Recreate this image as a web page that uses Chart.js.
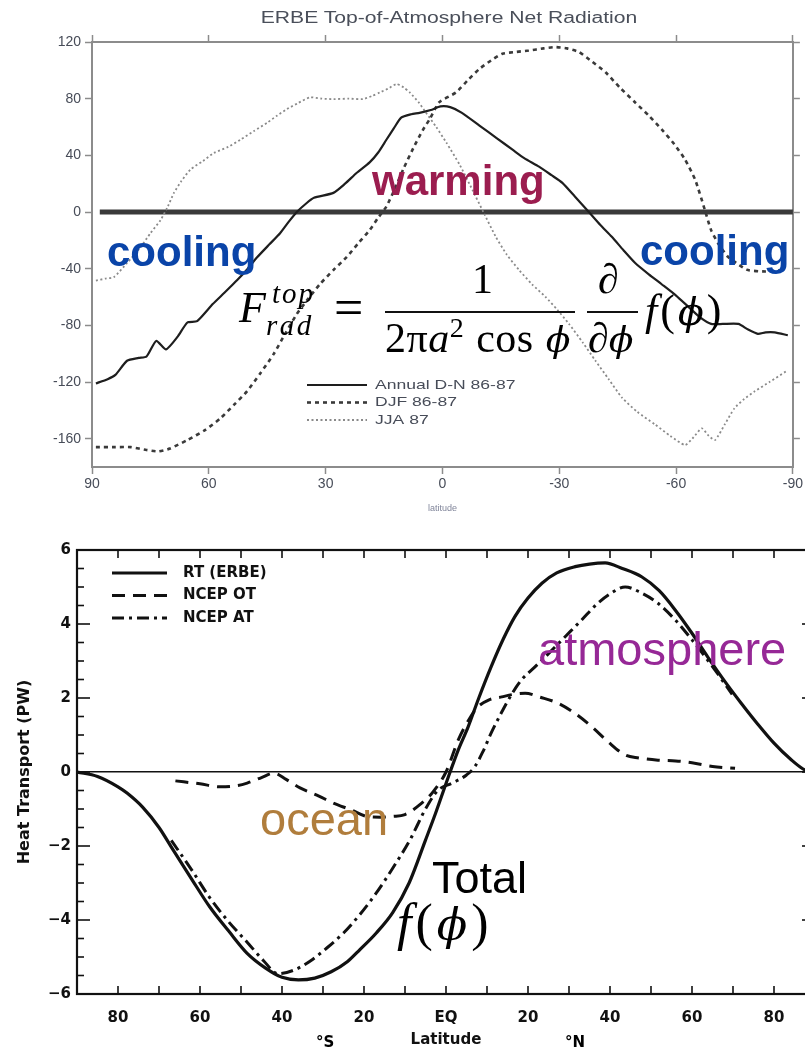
<!DOCTYPE html>
<html>
<head>
<meta charset="utf-8">
<script src="https://cdn.jsdelivr.net/npm/chart.js@4.4.0/dist/chart.umd.min.js"></script>
<style>
  html, body { margin: 0; padding: 0; background: #fff; }
  body { width: 805px; height: 1053px; position: relative; overflow: hidden; }
  #topChart { position: absolute; left: 0; top: 0; }
  #heatChart { position: absolute; left: 0; top: 520px; }
  .note { position: absolute; white-space: nowrap; line-height: 1; font-family: "Liberation Sans", Arial, sans-serif; }
  .bold { font-weight: bold; }
  .math { font-family: "Liberation Serif", "DejaVu Serif", "Times New Roman", serif; }
  .math i { font-style: italic; }
  .phi { font-family: "DejaVu Serif", serif; font-style: italic; font-size: 0.86em; }
  .bar { position: absolute; height: 0; border-top: 2px solid #111; }
</style>
</head>
<body>
<canvas id="topChart" width="805" height="520"></canvas>
<canvas id="heatChart" width="860" height="533"></canvas>

<div class="note" id="topTitle" style="font-size:16px;color:#4a4f5a;">ERBE Top-of-Atmosphere Net Radiation</div>

<div class="note bold" data-x="372" data-base="195" style="font-size:42px;color:#9b1d4f;">warming</div>
<div class="note bold" data-x="107" data-base="266" style="font-size:42px;color:#0a44a8;">cooling</div>
<div class="note bold" data-x="640" data-base="265" style="font-size:42px;color:#0a44a8;">cooling</div>

<div class="note math" data-x="239" data-base="322" style="font-size:44px;letter-spacing:3px;"><i>F</i></div>
<div class="note math" data-x="272" data-base="303" style="font-size:29px;letter-spacing:2px;"><i>top</i></div>
<div class="note math" data-x="266" data-base="335" style="font-size:29px;letter-spacing:2.5px;"><i>rad</i></div>
<div class="note math" data-x="334" data-base="325" style="font-size:52px;">=</div>
<div class="note math" data-x="472" data-base="293" style="font-size:42px;">1</div>
<div class="bar" style="left:385px;top:311px;width:190px;"></div>
<div class="note math" data-x="385" data-base="352" style="font-size:42px;letter-spacing:0.5px;word-spacing:1px;">2π<i>a</i><sup style="font-size:28px;">2</sup> cos <span class="phi">ϕ</span></div>
<div class="note math" data-x="598" data-base="293" style="font-size:42px;"><i>∂</i></div>
<div class="bar" style="left:587px;top:311px;width:51px;"></div>
<div class="note math" data-x="588" data-base="352" style="font-size:42px;"><i>∂</i><span class="phi">ϕ</span></div>
<div class="note math" data-x="645" data-base="325" style="font-size:44px;letter-spacing:3px;"><i>f</i>(<span class="phi">ϕ</span>)</div>

<div class="note" data-x="538" data-base="665" style="font-size:47px;color:#962896;">atmosphere</div>
<div class="note" data-x="260" data-base="835" style="font-size:47px;color:#b07d3c;">ocean</div>
<div class="note" data-x="432" data-base="893" style="font-size:45px;color:#000;">Total</div>
<div class="note math" data-x="397" data-base="940" style="font-size:52px;letter-spacing:4px;"><i>f</i>(<span class="phi">ϕ</span>)</div>
<div class="note bold" data-x="316" data-base="1047" style="font-size:15px;font-family:'DejaVu Sans',sans-serif;">°S</div>
<div class="note bold" data-x="565" data-base="1047" style="font-size:15px;font-family:'DejaVu Sans',sans-serif;">°N</div>

<script>
// ---- ERBE top-of-atmosphere net radiation (W/m2) ----
const annualLat = [89, 86, 84, 81, 78, 76, 73.5, 71, 68, 65.5, 63, 59, 56, 52.7, 50, 47.6, 44.5, 41.7, 39.5, 37.4, 35, 33, 28, 25, 22, 18.7, 16.5, 14.4, 12.5, 10.6, 8, 5.9, 3, 0.5, -2, -5, -9.5, -14, -18, -21, -24.8, -28, -30.8, -34, -37.6, -40.5, -43.5, -46.5, -49.5, -53, -56.3, -60, -63.2, -66, -69, -72, -76, -78.5, -81, -83, -85.3, -88.7]
const annualNet = [-121, -118, -115, -105, -103, -102, -91, -97, -88, -78, -77, -65, -57, -48, -40, -32, -23, -15, -7, 0, 6, 10, 13.5, 20, 27.7, 35, 42, 51, 59, 66.6, 69, 70, 72, 74.5, 74, 70, 61, 52, 44, 38, 32, 26, 20.6, 11, 0, -9, -17.5, -27, -36, -44, -51, -59, -67, -74, -79, -79, -79, -83, -86, -85, -85, -87]

const djfLat = [89, 84, 80, 76, 73, 70, 65.5, 61, 57, 53.5, 50.2, 46.8, 43.4, 40.4, 37.4, 34.4, 31.4, 28, 24.6, 21.6, 18.7, 16.5, 14.4, 12.3, 10.1, 7.5, 5, 3.3, 0.8, -3.5, -6.5, -9.5, -12.5, -15.4, -19, -22.2, -26, -29, -32, -35, -38.5, -41.9, -45.5, -49.5, -53, -56.3, -59.5, -62.3, -64.9, -67.4, -69, -71, -73.4, -76, -78.5, -83, -88]
const djfNet = [-166, -166, -166, -168, -169, -167, -161, -154, -145.6, -136, -126.6, -114, -100.5, -86, -72, -61, -50.7, -41, -31.8, -22, -12.8, -4, 3.8, 16, 30, 45, 58, 65.4, 77.5, 84.4, 93, 101, 107, 111.7, 113, 114, 115.5, 116.4, 115.5, 113, 106, 98.6, 88, 77.3, 68, 58.3, 48, 37, 22.8, 1.4, -12.8, -23, -31.8, -37, -41, -42, -41]

const jjaLat = [89, 86.5, 84.4, 81, 77.5, 75, 72.4, 70.5, 69, 67, 64.7, 61.5, 58.7, 55, 51.9, 48.5, 45, 42.5, 40, 37, 34, 31, 28, 24, 20.4, 18, 16.1, 14, 11.8, 10, 8.4, 6, 4.2, 1.6, -1, -4.5, -7.7, -10.5, -13.7, -16.5, -19.7, -23, -26.5, -29.5, -32.5, -36, -39.3, -42.7, -46.1, -50, -54.6, -58.5, -62.3, -64.5, -66.6, -68.4, -70, -72.5, -75, -77.5, -80.2, -84, -88.3]
const jjaNet = [-48.4, -47, -46, -36, -24.7, -15, -5.7, 4, 13.3, 22, 30, 36, 41.7, 46, 51, 57, 63, 68, 72.5, 77, 80.9, 80, 79.7, 80, 79.7, 82, 84.4, 87, 90.3, 88, 84.4, 77, 70, 60, 49, 33, 15.6, 0, -17.5, -30, -41, -51, -60, -69, -79, -92, -105, -118, -131, -141, -150, -158, -164.5, -159, -152.7, -158, -161, -150, -138.5, -132, -126.6, -120, -112.4]

const zeroLineLat = [88, -90]
const zeroLineNet = [0, 0]

const netTicks = [120, 80, 40, 0, -40, -80, -120, -160]
const erbeLatTicks = [90, 60, 30, 0, -30, -60, -90]

// ---- meridional heat transport (PW) ----
const rtLat = [-90, -85, -80, -77.8, -74, -70, -66.6, -62, -57.6, -53, -48.5, -44, -40, -36, -32, -28, -24, -21, -17, -13, -9, -5, -2.5, 1, 3, 5.4, 8, 11, 14, 16.8, 20, 23.4, 27, 31.5, 35, 38.8, 43, 47.8, 52, 55.9, 60, 63.9, 68, 72, 76, 80, 84, 87.6, 90]
const rtPW = [0, -0.12, -0.4, -0.57, -0.95, -1.5, -2.1, -2.9, -3.65, -4.3, -4.9, -5.3, -5.55, -5.62, -5.57, -5.4, -5.12, -4.8, -4.35, -3.8, -3.0, -1.84, -1.1, 0, 0.6, 1.22, 2.0, 2.84, 3.6, 4.2, 4.7, 5.1, 5.38, 5.55, 5.62, 5.65, 5.5, 5.27, 4.9, 4.38, 3.75, 3.1, 2.45, 1.86, 1.3, 0.78, 0.35, 0.05, 0]

const otLat = [-66, -60, -55, -51, -48.5, -45, -42, -39, -35.6, -31, -27.5, -23, -19.3, -16, -13, -10, -6, -3.4, 0, 3, 5.5, 7.8, 10.5, 13.6, 16.5, 19.3, 23, 27.3, 31.5, 35.6, 39.5, 43.7, 47, 51.7, 56, 60, 65, 70.5]
const otPW = [-0.24, -0.32, -0.4, -0.37, -0.3, -0.15, -0.03, -0.2, -0.43, -0.65, -0.84, -1.03, -1.2, -1.22, -1.2, -1.15, -0.85, -0.57, 0, 0.87, 1.4, 1.76, 1.95, 2.03, 2.1, 2.13, 2.02, 1.86, 1.58, 1.22, 0.82, 0.46, 0.38, 0.32, 0.3, 0.25, 0.15, 0.1]

const atLat = [-67, -62, -57.6, -53, -48.5, -44.5, -41, -37, -33, -29, -25, -21, -17, -13, -8.8, -5, -2, 1.5, 5, 7, 9, 11, 13.5, 16, 18.5, 21.7, 25, 29, 33, 37, 40.5, 43.7, 47.5, 51.7, 56, 60, 65, 69.8]
const atPW = [-1.85, -2.65, -3.4, -4.05, -4.6, -5.1, -5.45, -5.35, -5.1, -4.75, -4.35, -3.85, -3.27, -2.6, -1.84, -1.0, -0.5, -0.3, -0.08, 0.14, 0.55, 1.05, 1.6, 2.1, 2.5, 2.84, 3.2, 3.65, 4.1, 4.56, 4.85, 5.0, 4.85, 4.56, 4.1, 3.57, 2.85, 2.1]

const heatTicks = [-6, -4, -2, 0, 2, 4, 6]
const heatLatTicks = [-80, -60, -40, -20, 0, 20, 40, 60, 80]
const heatLatLabels = ["80", "60", "40", "20", "EQ", "20", "40", "60", "80"]

const SANS = '"Liberation Sans", Arial, sans-serif'
const DEJAVU = '"DejaVu Sans", sans-serif'

function zip(xs, ys) {
  return xs.map((x, i) => ({ x: x, y: ys[i] }))
}

// small legend drawn inside the plot area
const insetLegend = {
  id: "insetLegend",
  afterDraw(chart, args, opts) {
    if (!opts.items) return
    const ctx = chart.ctx
    ctx.save()
    opts.items.forEach((idx, i) => {
      const ds = chart.data.datasets[idx]
      const y = opts.y + i * opts.rowGap
      ctx.beginPath()
      ctx.setLineDash(ds.borderDash || [])
      ctx.lineWidth = ds.borderWidth
      ctx.strokeStyle = ds.borderColor
      ctx.moveTo(opts.x, y)
      ctx.lineTo(opts.x + opts.lineLen, y)
      ctx.stroke()
      ctx.setLineDash([])
      ctx.fillStyle = opts.color
      ctx.font = opts.font
      ctx.textBaseline = "middle"
      ctx.save()
      ctx.translate(opts.x + opts.lineLen + opts.textGap, y)
      ctx.scale(opts.stretch || 1, 1)
      ctx.fillText(ds.label, 0, 0)
      ctx.restore()
    })
    ctx.restore()
  },
}

// frame + inward tick marks of the heat transport plot
const innerTicks = {
  id: "innerTicks",
  afterDraw(chart, args, opts) {
    if (!opts.on) return
    const { ctx, chartArea: a, scales } = chart
    const seg = (x1, y1, x2, y2) => {
      ctx.beginPath()
      ctx.moveTo(x1, y1)
      ctx.lineTo(x2, y2)
      ctx.stroke()
    }
    ctx.save()
    ctx.strokeStyle = "#111"
    ctx.lineWidth = 1.6
    for (let v = -80; v <= 80; v += 10) {
      const px = scales.x.getPixelForValue(v)
      seg(px, a.top, px, a.top + 8)
      seg(px, a.bottom, px, a.bottom - 8)
    }
    for (let v = -6; v <= 6; v += 0.5) {
      const py = scales.y.getPixelForValue(v)
      const len = v % 2 === 0 ? 13 : 7
      seg(a.left, py, a.left + len, py)
      seg(a.right, py, a.right - len, py)
    }
    ctx.lineWidth = 2.2
    ctx.strokeRect(a.left, a.top, a.right - a.left, a.bottom - a.top)
    ctx.restore()
  },
}

Chart.register(insetLegend, innerTicks)

// ---------- top chart ----------
const grayAxis = {
  grid: { drawOnChartArea: false, color: "#8c8c8c", tickLength: 7, tickWidth: 1.5 },
  border: { color: "#8c8c8c", width: 2 },
}

new Chart(document.getElementById("topChart"), {
  type: "line",
  data: {
    datasets: [
      { label: "Annual D-N 86-87", data: zip(annualLat, annualNet), borderColor: "#1e1e1e", borderWidth: 2.2 },
      { label: "DJF 86-87", data: zip(djfLat, djfNet), borderColor: "#3a3a3a", borderWidth: 2.6, borderDash: [4, 4] },
      { label: "JJA 87", data: zip(jjaLat, jjaNet), borderColor: "#8a8a8a", borderWidth: 1.8, borderDash: [2, 2.5] },
      { label: "zero", data: zip(zeroLineLat, zeroLineNet), borderColor: "#3a3a3a", borderWidth: 5 },
    ],
  },
  options: {
    responsive: false,
    animation: false,
    layout: { padding: { top: 42, right: 10, left: 0, bottom: 0 } },
    elements: { point: { radius: 0 }, line: { tension: 0.2 } },
    plugins: {
      legend: { display: false },
      tooltip: { enabled: false },
      insetLegend: { items: [0, 1, 2], x: 307, y: 385, rowGap: 17.5, lineLen: 60, textGap: 8, font: "13px " + SANS, color: "#474c58", stretch: 1.35 },
    },
    scales: {
      x: {
        type: "linear",
        reverse: true,
        min: -90,
        max: 90,
        afterBuildTicks: (s) => { s.ticks = erbeLatTicks.map((v) => ({ value: v })) },
        afterFit: (s) => { s.height = 53 },
        ...grayAxis,
        ticks: { font: { family: SANS, size: 14 }, color: "#474c58", padding: 2, maxRotation: 0, callback: (v) => String(v) },
        title: { display: true, text: "latitude", font: { family: SANS, size: 9 }, color: "#80859a", padding: { top: 0, bottom: 6 } },
      },
      x2: {
        type: "linear",
        position: "top",
        reverse: true,
        min: -90,
        max: 90,
        afterBuildTicks: (s) => { s.ticks = erbeLatTicks.map((v) => ({ value: v })) },
        afterFit: (s) => { s.height = 0 },
        ...grayAxis,
        ticks: { display: false },
      },
      y: {
        min: -180,
        max: 120,
        afterBuildTicks: (s) => { s.ticks = netTicks.map((v) => ({ value: v })) },
        afterFit: (s) => { s.width = 92 },
        ...grayAxis,
        ticks: { font: { family: SANS, size: 14 }, color: "#474c58", padding: 4 },
      },
      y2: {
        position: "right",
        min: -180,
        max: 120,
        afterBuildTicks: (s) => { s.ticks = netTicks.map((v) => ({ value: v })) },
        afterFit: (s) => { s.width = 0 },
        ...grayAxis,
        ticks: { display: false },
      },
    },
  },
})

// ---------- bottom chart ----------
new Chart(document.getElementById("heatChart"), {
  type: "line",
  data: {
    datasets: [
      { label: "RT (ERBE)", data: zip(rtLat, rtPW), borderColor: "#111", borderWidth: 3.2 },
      { label: "NCEP OT", data: zip(otLat, otPW), borderColor: "#111", borderWidth: 3, borderDash: [13, 8] },
      { label: "NCEP AT", data: zip(atLat, atPW), borderColor: "#111", borderWidth: 3, borderDash: [12, 5, 3, 5] },
    ],
  },
  options: {
    responsive: false,
    animation: false,
    layout: { padding: { top: 30, right: 45, left: 0, bottom: 0 } },
    elements: { point: { radius: 0 }, line: { tension: 0.4, cubicInterpolationMode: "monotone" } },
    plugins: {
      legend: { display: false },
      tooltip: { enabled: false },
      innerTicks: { on: true },
      insetLegend: { items: [0, 1, 2], x: 112, y: 53, rowGap: 22.5, lineLen: 55, textGap: 16, font: "bold 15px " + DEJAVU, color: "#111", stretch: 1 },
    },
    scales: {
      x: {
        type: "linear",
        min: -90,
        max: 90,
        afterBuildTicks: (s) => { s.ticks = heatLatTicks.map((v) => ({ value: v })) },
        afterFit: (s) => { s.height = 59 },
        grid: { display: false },
        border: { display: false },
        ticks: { font: { family: DEJAVU, size: 15, weight: "bold" }, color: "#111", padding: 7, maxRotation: 0, callback: (v, i) => heatLatLabels[i] },
        title: { display: true, text: "Latitude", font: { family: DEJAVU, size: 15, weight: "bold" }, color: "#111", padding: { top: 0, bottom: 4 } },
      },
      y: {
        min: -6,
        max: 6,
        afterBuildTicks: (s) => { s.ticks = heatTicks.map((v) => ({ value: v })) },
        afterFit: (s) => { s.width = 77 },
        grid: { drawTicks: false, lineWidth: 1.5, color: (c) => (c.tick && c.tick.value === 0 ? "#111" : "rgba(0,0,0,0)") },
        border: { display: false },
        ticks: { font: { family: DEJAVU, size: 15, weight: "bold" }, color: "#111", padding: 6, callback: (v) => (v < 0 ? "\u2212" + Math.abs(v) : String(v)) },
        title: { display: true, text: "Heat Transport (PW)", font: { family: DEJAVU, size: 16, weight: "bold" }, color: "#111", padding: { top: 15, bottom: 0 } },
      },
    },
  },
})

// place the HTML notes by their baseline
document.querySelectorAll(".note[data-base]").forEach((el) => {
  const probe = document.createElement("span")
  probe.style.cssText = "display:inline-block;width:0;height:0;vertical-align:baseline"
  el.appendChild(probe)
  el.style.left = el.dataset.x + "px"
  el.style.top = "0px"
  const off = probe.offsetTop
  el.style.top = (Number(el.dataset.base) - off) + "px"
  el.removeChild(probe)
})

const title = document.getElementById("topTitle")
title.style.left = "449px"
title.style.top = "10px"
title.style.transform = "translateX(-50%) scaleX(1.32)"
</script>
</body>
</html>
